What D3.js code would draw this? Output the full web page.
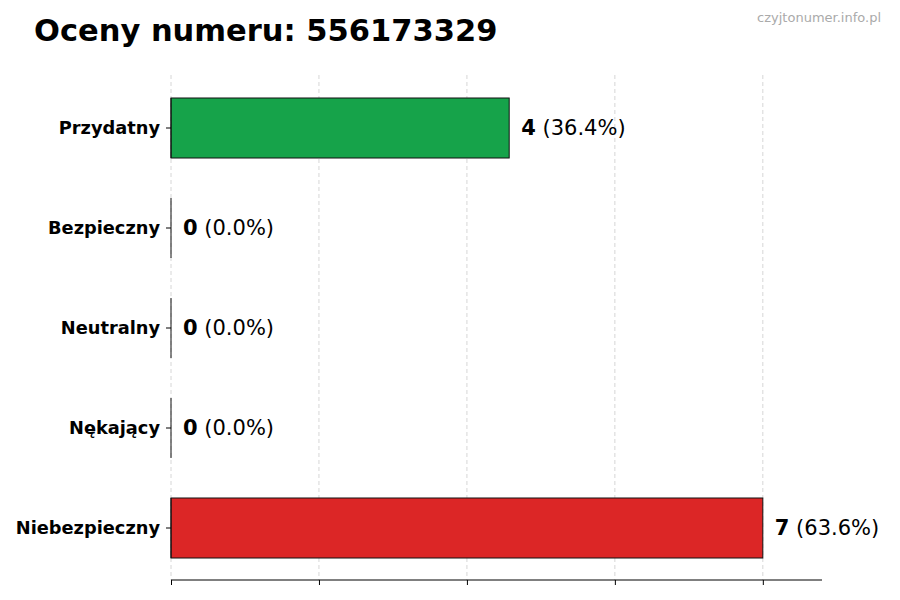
<!DOCTYPE html>
<html><head><meta charset="utf-8">
<script src="https://cdn.jsdelivr.net/npm/d3@7"></script>
<style>body{margin:0;background:#fff}</style></head>
<body><svg id="c" width="900" height="600"></svg>
<script>
const categories=["Przydatny","Bezpieczny","Neutralny","Nękający","Niebezpieczny"];
const values=[4,0,0,0,7];
const percents=["36.4%","0.0%","0.0%","0.0%","63.6%"];
const colors=["#16a34a","#16a34a","#9ca3af","#f59e0b","#dc2626"];
const tickVals=[0,1.75,3.5,5.25,7];
const svg=d3.select("#c");
const F="DejaVu Sans, sans-serif";
const x=d3.scaleLinear().domain([0,7.7]).range([171,822]);
const y=d3.scaleBand().domain(categories).range([78,578]).paddingInner(0.4).paddingOuter(0.2);
svg.append("text").attr("x",34).attr("y",41).attr("font-family",F).attr("font-weight","bold").attr("font-size",30.5).text("Oceny numeru: 556173329");
svg.append("text").attr("x",881).attr("y",22).attr("text-anchor","end").attr("font-family",F).attr("font-size",13).attr("fill","#aaa").text("czyjtonumer.info.pl");
svg.selectAll(".g").data(tickVals).enter().append("line").attr("x1",d=>x(d)).attr("x2",d=>x(d)).attr("y1",75).attr("y2",580).attr("stroke","#ccc").attr("stroke-dasharray","4,3").attr("stroke-width",0.8);
svg.selectAll(".b").data(values).enter().append("rect").attr("x",x(0)).attr("y",(d,i)=>y(categories[i])).attr("width",d=>x(d)-x(0)).attr("height",y.bandwidth()).attr("fill",(d,i)=>colors[i]).attr("stroke","#111").attr("stroke-width",1);
svg.selectAll(".z").data(values).enter().append("line").attr("x1",x(0)).attr("x2",x(0)).attr("y1",(d,i)=>y(categories[i])).attr("y2",(d,i)=>y(categories[i])+y.bandwidth()).attr("stroke","#111").attr("stroke-width",1);
const lab=svg.selectAll(".l").data(values).enter().append("text").attr("x",d=>x(d)+12).attr("y",(d,i)=>y(categories[i])+y.bandwidth()/2).attr("dy","0.35em").attr("font-family",F).attr("font-size",21);
lab.append("tspan").attr("font-weight","bold").text(d=>d);
lab.append("tspan").text((d,i)=>" ("+percents[i]+")");
const ax=svg.append("g").attr("transform","translate(0,580)").call(d3.axisBottom(x).tickValues(tickVals).tickFormat("").tickSize(5));
ax.select(".domain").attr("d","M171,0H822");
const ay=svg.append("g").attr("transform","translate(171,0)").call(d3.axisLeft(y).tickSize(5).tickPadding(6));
ay.select(".domain").remove();
ay.selectAll("text").attr("font-family",F).attr("font-weight","bold").attr("font-size",17.8).attr("fill","#000");
</script></body></html>
